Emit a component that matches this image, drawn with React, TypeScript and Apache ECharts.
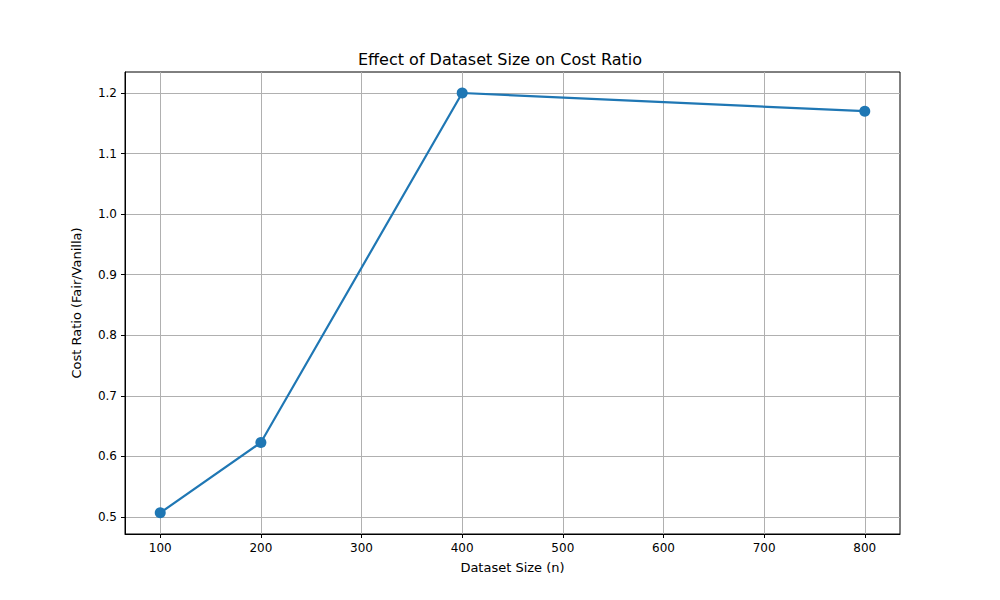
import React, { useEffect, useRef } from 'react';
import * as echarts from 'echarts';

const sizes = [100, 200, 400, 800];
const ratios = [0.507, 0.623, 1.2, 1.17];
const xTicks = [100, 200, 300, 400, 500, 600, 700, 800];
const yTicks = [0.5, 0.6, 0.7, 0.8, 0.9, 1.0, 1.1, 1.2];

const App: React.FC = () => {
  const chartRef = useRef<HTMLDivElement>(null);

  useEffect(() => {
    if (!chartRef.current) return;
    const chart = echarts.init(chartRef.current, null, { renderer: 'svg' });
    const font = 'DejaVu Sans';
    chart.setOption({
      animation: false,
      textStyle: { fontFamily: font },
      title: {
        text: 'Effect of Dataset Size on Cost Ratio',
        left: 'center',
        top: 46,
        textStyle: { fontSize: 16, fontWeight: 'normal', color: '#000', fontFamily: font },
      },
      grid: { left: 125, right: 100, top: 72, bottom: 66, show: true, borderColor: '#000', borderWidth: 1 },
      xAxis: {
        type: 'value',
        min: 65,
        max: 835,
        name: 'Dataset Size (n)',
        nameLocation: 'middle',
        nameGap: 27,
        nameTextStyle: { fontSize: 13, color: '#000' },
        axisLine: { onZero: false, lineStyle: { color: '#000' } },
        axisTick: { customValues: xTicks, length: 4, lineStyle: { color: '#000' } },
        axisLabel: { customValues: xTicks, color: '#000', fontSize: 12 },
        splitLine: { show: true, lineStyle: { color: '#b0b0b0', width: 1 } },
      },
      yAxis: {
        type: 'value',
        min: 0.472,
        max: 1.2347,
        name: 'Cost Ratio (Fair/Vanilla)',
        nameLocation: 'middle',
        nameGap: 42,
        nameTextStyle: { fontSize: 13, color: '#000' },
        axisLine: { show: true, lineStyle: { color: '#000' } },
        axisTick: { show: true, customValues: yTicks, length: 4, lineStyle: { color: '#000' } },
        axisLabel: { customValues: yTicks, color: '#000', fontSize: 12, formatter: (v: number) => v.toFixed(1) },
        splitLine: { show: true, lineStyle: { color: '#b0b0b0', width: 1 } },
      },
      series: [
        {
          type: 'line',
          data: sizes.map((s, i) => [s, ratios[i]]),
          symbol: 'circle',
          symbolSize: 11,
          lineStyle: { color: '#1f77b4', width: 2.2 },
          itemStyle: { color: '#1f77b4' },
        },
      ],
    });
    return () => chart.dispose();
  }, []);

  return <div ref={chartRef} style={{ width: 1000, height: 600, margin: -8 }} />;
};

export default App;
